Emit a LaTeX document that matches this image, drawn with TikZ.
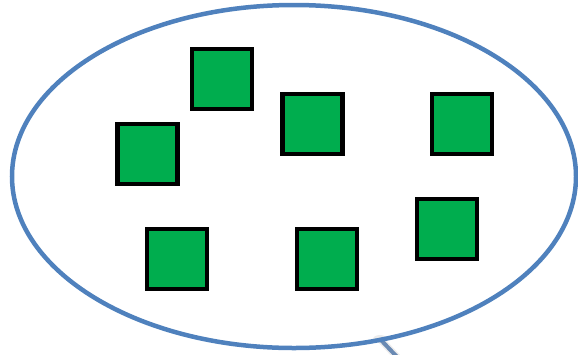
\documentclass[tikz,border=0pt]{standalone}
\usetikzlibrary{shapes.geometric}
\definecolor{ellblue}{HTML}{4F81BD}
\definecolor{boxgreen}{HTML}{00AD4E}
\definecolor{tailblue}{HTML}{6A8AB3}
\begin{document}
\begin{tikzpicture}[x=1pt,y=-1pt,
  sq/.style={draw=black,fill=boxgreen,line width=4.2pt,minimum size=60pt,inner sep=0pt,shape=rectangle},
  bubble/.style={draw=ellblue,line width=4.5pt,ellipse,minimum width=564pt,minimum height=343pt,inner sep=0pt}]
\useasboundingbox (0,0) rectangle (578,354);
\coordinate (t1) at (380,339);
\coordinate (t2) at (400,360);
\fill[black!12,opacity=0.6] (t1) ellipse (7pt and 4pt);
\draw[black!15,line width=7pt,opacity=0.5] (t1) -- (t2);
\draw[tailblue,line width=4pt] (t1) -- (t2);
\node[bubble] (e) at (294,176.5) {};
\node[sq] (s1) at (222,79) {};
\node[sq] (s2) at (312.5,124) {};
\node[sq] (s3) at (462,124) {};
\node[sq] (s4) at (147.5,154) {};
\node[sq] (s5) at (177,259) {};
\node[sq] (s6) at (327,259) {};
\node[sq] (s7) at (447,229) {};
\end{tikzpicture}
\end{document}
